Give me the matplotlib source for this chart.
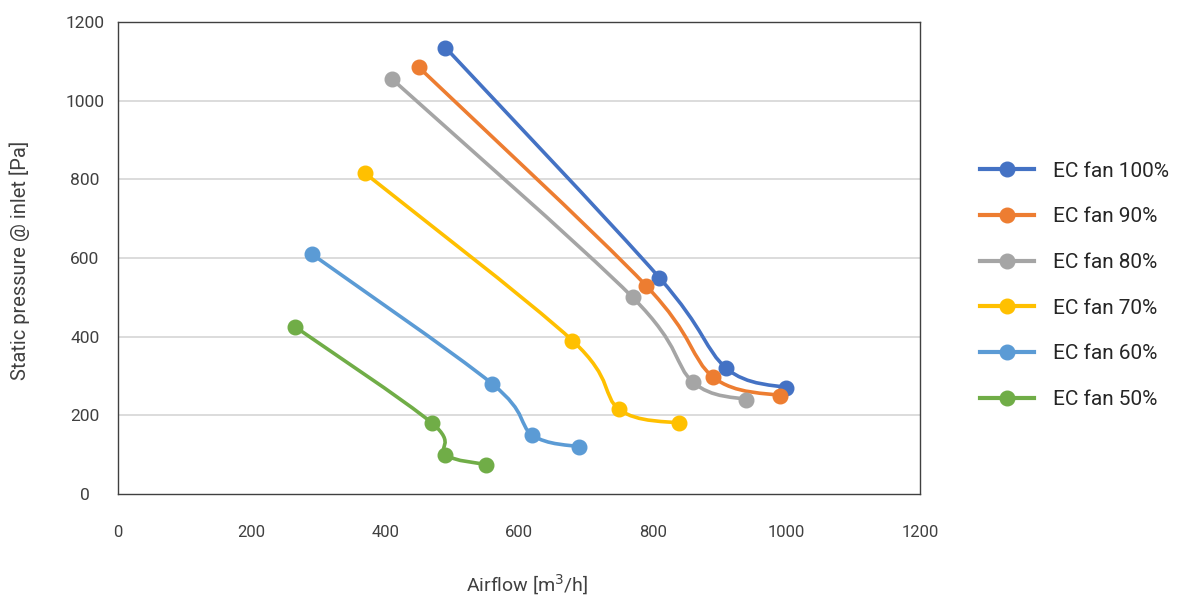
import numpy as np
import matplotlib.pyplot as plt
from matplotlib.path import Path
from matplotlib.patches import PathPatch
from matplotlib.lines import Line2D

plt.rcParams['font.family'] = ['Roboto', 'DejaVu Sans']

labels = ['EC fan 100%', 'EC fan 90%', 'EC fan 80%', 'EC fan 70%', 'EC fan 60%', 'EC fan 50%']
colors = ['#4472C4', '#ED7D31', '#A5A5A5', '#FFC000', '#5B9BD5', '#70AD47']

airflow_100 = [490, 810, 910, 1000]
pressure_100 = [1135, 550, 320, 270]
airflow_90 = [450, 790, 890, 990]
pressure_90 = [1085, 530, 298, 250]
airflow_80 = [410, 770, 860, 940]
pressure_80 = [1055, 500, 285, 240]
airflow_70 = [370, 680, 750, 840]
pressure_70 = [815, 390, 215, 180]
airflow_60 = [290, 560, 620, 690]
pressure_60 = [610, 280, 150, 120]
airflow_50 = [265, 470, 490, 550]
pressure_50 = [425, 180, 100, 75]

series = [(airflow_100, pressure_100), (airflow_90, pressure_90), (airflow_80, pressure_80),
          (airflow_70, pressure_70), (airflow_60, pressure_60), (airflow_50, pressure_50)]

xticks = [0, 200, 400, 600, 800, 1000, 1200]
yticks = [0, 200, 400, 600, 800, 1000, 1200]


def smooth_path(xs, ys):
    # Catmull-Rom style bezier through the points (like Excel "smoothed line")
    p = np.column_stack([xs, ys]).astype(float)
    n = len(p)
    verts = [p[0]]
    codes = [Path.MOVETO]
    for i in range(n - 1):
        p0 = p[i - 1] if i > 0 else p[i]
        p3 = p[i + 2] if i + 2 < n else p[i + 1]
        c1 = p[i] + (p[i + 1] - p0) / 6
        c2 = p[i + 1] - (p3 - p[i]) / 6
        verts += [c1, c2, p[i + 1]]
        codes += [Path.CURVE4] * 3
    return Path(verts, codes)


fig = plt.figure(figsize=(11.82, 5.99), dpi=100)
ax = fig.add_axes([118 / 1182, 1 - 494 / 599, 802 / 1182, 472 / 599])

for (xs, ys), c in zip(series, colors):
    ax.add_patch(PathPatch(smooth_path(xs, ys), fill=False, edgecolor=c, lw=2.6,
                           capstyle='round', joinstyle='round', zorder=3))
    ax.plot(xs, ys, 'o', color=c, markersize=10.5, zorder=4)

ax.set_xlim(0, 1200)
ax.set_ylim(0, 1200)
ax.set_xticks(xticks)
ax.set_yticks(yticks)
for v in yticks[1:-1]:
    ax.axhline(v, color='#D9D9D9', lw=1.3, zorder=1)

for s in ax.spines.values():
    s.set_color('#404040')
    s.set_linewidth(1.0)

ax.tick_params(axis='both', length=0, colors='#404040')
ax.tick_params(axis='x', pad=22, labelsize=12)
ax.tick_params(axis='y', pad=24, labelsize=12.5)
for t in ax.get_yticklabels():
    t.set_horizontalalignment('center')

fig.text(527 / 1182, 1 - 585 / 599, 'Airflow [m$^3$/h]', ha='center', va='center',
         fontsize=14, color='#404040')
fig.text(20 / 1182, 1 - 260 / 599, 'Static pressure @ inlet [Pa]', rotation=90,
         ha='center', va='center', fontsize=14.5, color='#404040')

handles = [Line2D([], [], color=c, lw=3, marker='o', markersize=10.5) for c in colors]
fig.legend(handles, labels, loc='upper left', bbox_to_anchor=(961 / 1182, 1 - 143 / 599),
           frameon=False, fontsize=15, handlelength=2.6, handletextpad=0.9,
           labelspacing=1.28, labelcolor='#262626')

fig.savefig('out.png', dpi=100)
